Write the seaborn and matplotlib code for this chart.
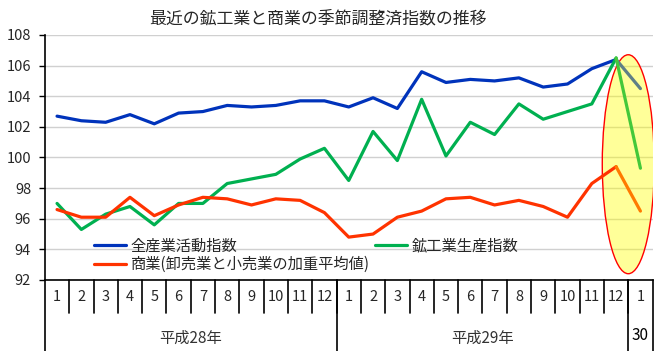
import matplotlib
matplotlib.use("Agg")
import matplotlib.pyplot as plt
from matplotlib.patches import Ellipse
import seaborn as sns
import pandas as pd
import numpy as np

# Data (seasonally adjusted indices, 平成28年1月 - 平成30年1月)
months = [1, 2, 3, 4, 5, 6, 7, 8, 9, 10, 11, 12,
          1, 2, 3, 4, 5, 6, 7, 8, 9, 10, 11, 12, 1]
years = ['平成28年', '平成29年', '30']
year_sizes = [12, 12, 1]

all_industry = [102.7, 102.4, 102.3, 102.8, 102.2, 102.9, 103.0, 103.4, 103.3, 103.4, 103.7, 103.7,
                103.3, 103.9, 103.2, 105.6, 104.9, 105.1, 105.0, 105.2, 104.6, 104.8, 105.8, 106.4,
                104.5]
mining = [97.0, 95.3, 96.3, 96.8, 95.6, 97.0, 97.0, 98.3, 98.6, 98.9, 99.9, 100.6,
          98.5, 101.7, 99.8, 103.8, 100.1, 102.3, 101.5, 103.5, 102.5, 103.0, 103.5, 106.5,
          99.3]
commerce = [96.6, 96.1, 96.1, 97.4, 96.2, 96.9, 97.4, 97.3, 96.9, 97.3, 97.2, 96.4,
            94.8, 95.0, 96.1, 96.5, 97.3, 97.4, 96.9, 97.2, 96.8, 96.1, 98.3, 99.4,
            96.5]

names = ['全産業活動指数', '鉱工業生産指数', '商業(卸売業と小売業の加重平均値)']
colors = ['#0033BB', '#00B050', '#FF3300']
colors_latest = ['#5F7F86', '#44C83A', '#FF7A00']

n = len(months)
df = pd.DataFrame({
    'idx': np.tile(np.arange(n), 3),
    'value': all_industry + mining + commerce,
    'series': np.repeat(names, n),
})
df_main = df[df['idx'] <= n - 2]
df_last = df[df['idx'] >= n - 2]

sns.set_style("white")
plt.rcParams['font.family'] = ['Noto Sans CJK JP', 'DejaVu Sans']

fig = plt.figure(figsize=(6.7, 3.51), dpi=100)
ax = fig.add_axes([0.067, 0.2023, 0.907, 0.698])

# highlight of the latest month
ell = Ellipse((n - 1.5, 99.56), 2.14, 14.3, facecolor=(1, 1, 0, 0.4),
              edgecolor='#FF0000', lw=1.0, zorder=1.5)
ax.add_patch(ell)

sns.lineplot(data=df_main, x='idx', y='value', hue='series', hue_order=names,
             palette=colors, lw=2.3, ax=ax, zorder=3)
sns.lineplot(data=df_last, x='idx', y='value', hue='series', hue_order=names,
             palette=colors_latest, lw=2.3, ax=ax, legend=False, zorder=3)

ax.set_xlim(-0.5, n - 0.5)
ax.set_ylim(92, 108)
ax.set_yticks(np.arange(92, 109, 2))
ax.yaxis.grid(True, color='#D0D0D0', lw=1.0)
ax.set_axisbelow(True)
ax.set_xticks([])
ax.set_xlabel('')
ax.set_ylabel('')
ax.tick_params(axis='y', left=True, direction='out', length=4, width=1,
               color='black', labelsize=10.5, pad=6)
for s in ['top', 'right']:
    ax.spines[s].set_visible(False)
for s in ['left', 'bottom']:
    ax.spines[s].set_color('black')
    ax.spines[s].set_linewidth(1.2)

# category table under the axis
trans = ax.get_xaxis_transform()
row_h = 0.135
full_h = 0.29
for i, m in enumerate(months):
    ax.text(i, -row_h / 2, str(m), transform=trans, ha='center', va='center',
            fontsize=10.5, clip_on=False)
for i in range(1, n):
    ax.plot([i - 0.5, i - 0.5], [0, -row_h], transform=trans, color='black',
            lw=1.2, clip_on=False)
start = 0
bounds = [-0.5]
for y, size in zip(years, year_sizes):
    center = start + (size - 1) / 2
    ypos = -0.238 if size > 1 else -0.226
    ax.text(center, ypos, y, transform=trans, ha='center', va='center',
            fontsize=11, color='#333333' if size > 1 else 'black', clip_on=False)
    start += size
    bounds.append(start - 0.5)
for b in bounds:
    ax.plot([b, b], [0, -full_h], transform=trans, color='black', lw=1.2, clip_on=False)

# legend
h, l = ax.get_legend_handles_labels()
order = [0, 2, 1]
leg = ax.legend([h[k] for k in order], [l[k] for k in order], ncol=2, frameon=False,
                loc='lower left', bbox_to_anchor=(0.071, 0.003), fontsize=11,
                handlelength=2.1, handletextpad=0.3, columnspacing=0.35,
                labelspacing=0.1, borderaxespad=0)
for line in leg.get_lines():
    line.set_linewidth(2.3)

fig.text(0.475, 0.948, '最近の鉱工業と商業の季節調整済指数の推移', ha='center', va='center',
         fontsize=12.2)

fig.savefig('out.png', dpi=100)
